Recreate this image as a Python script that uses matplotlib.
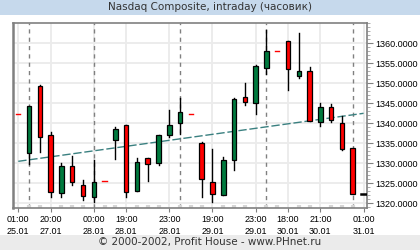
import numpy as np
import matplotlib.pyplot as plt
from matplotlib.patches import Rectangle
from matplotlib.ticker import MultipleLocator, FixedLocator

# hourly candles, index = slot on the x axis (None = empty slot with a marker)
opens = [None, 1332.5, 1349.25, 1337.0, 1322.5, 1329.25, 1324.5, 1321.5,
         None, 1335.75, 1339.5, 1323.0, 1331.25, 1330.0, 1337.0, 1340.0,
         None, 1335.0, 1325.25, 1322.0, 1330.75, 1346.5, 1345.0, 1353.75,
         None, 1360.5, 1351.75, 1353.0, 1340.25, 1344.0, 1340.0, 1333.75, None]
closes = [None, 1344.25, 1336.5, 1322.75, 1329.25, 1325.25, 1321.75, 1325.25,
          None, 1338.5, 1322.75, 1330.3, 1329.75, 1337.0, 1339.5, 1342.75,
          None, 1326.0, 1322.25, 1330.75, 1346.0, 1345.25, 1354.25, 1358.0,
          None, 1353.5, 1353.0, 1340.5, 1344.0, 1340.75, 1333.5, 1322.25, None]
highs = [None, 1344.25, 1349.6, 1337.75, 1330.0, 1331.75, 1325.75, 1330.8,
         None, 1339.0, 1339.5, 1331.25, 1331.25, 1337.0, 1343.25, 1346.4,
         None, 1335.3, 1333.5, 1331.5, 1346.25, 1350.0, 1354.5, 1363.25,
         None, 1360.5, 1362.6, 1354.0, 1345.0, 1344.75, 1341.75, 1333.75, None]
lows = [None, 1329.8, 1332.75, 1321.7, 1321.7, 1324.6, 1320.8, 1320.4,
        None, 1331.1, 1321.7, 1323.0, 1325.6, 1329.7, 1336.6, 1337.4,
        None, 1321.7, 1320.4, 1322.0, 1328.4, 1344.5, 1342.4, 1352.4,
        None, 1348.4, 1351.25, 1340.5, 1339.25, 1340.25, 1333.25, 1322.25, None]

# single price marks in the empty slots
mark_idx = [0, 8, 16, 24]
mark_val = [1342.25, 1325.6, 1342.25, 1358.0]
last_idx = 32
last_val = 1322.3

# trend line endpoints
trend_x = [0, 32]
trend_y = [1330.5, 1342.5]

tick_idx = [0, 3, 7, 10, 14, 18, 22, 25, 28, 32]
tick_labels = ["01:00\n25.01", "20:00\n27.01", "00:00\n28.01", "19:00\n28.01",
               "23:00\n28.01", "19:00\n29.01", "23:00\n29.01", "18:00\n30.01",
               "21:00\n30.01", "01:00\n31.01"]
day_idx = [1, 7, 15, 23, 31]

green = "#007a3e"
red = "#ff0000"
W, H = 420, 250

fig = plt.figure(figsize=(4.2, 2.5), dpi=100)
fig.patch.set_facecolor("white")

# title and footer bars
fig.add_artist(Rectangle((0, 1 - 15 / H), 1, 15 / H, transform=fig.transFigure,
                         facecolor="#c6d9ec", edgecolor="none", zorder=0))
fig.add_artist(Rectangle((0, 0), 1, 15.5 / H, transform=fig.transFigure,
                         facecolor="#ebebeb", edgecolor="none", zorder=0))
fig.text(0.5, 1 - 7.5 / H, "Nasdaq Composite, intraday (часовик)", ha="center",
         va="center", fontsize=7.5, color="#333333", family="DejaVu Sans")
fig.text(0.5, 7.5 / H, "© 2000-2002, Profit House - www.PHnet.ru", ha="center",
         va="center", fontsize=7.5, color="#333333", family="DejaVu Sans")

ax = fig.add_axes([13 / W, 1 - 208 / H, (367 - 13) / W, (208 - 23) / H])
ax.set_xlim(-0.49, 32.32)
ax.set_ylim(1318.83, 1365.08)

# grid
for v in range(1320, 1365, 5):
    ax.axhline(v, color="#ebebeb", lw=1.3, zorder=0)
for i in tick_idx:
    ax.axvline(i, color="#ebebeb", lw=1.3, zorder=0)
for i in day_idx:
    ax.axvline(i, color="#808080", lw=1, ls=(0, (3, 3)), zorder=1)

# trend line
ax.plot(trend_x, trend_y, color="#3a8080", lw=1, ls=(0, (6, 2)), zorder=2)

bw = 0.42
for i in range(len(opens)):
    o, c, h, l = opens[i], closes[i], highs[i], lows[i]
    if o is None:
        continue
    ax.plot([i, i], [l, h], color="black", lw=1, zorder=3)
    col = green if c >= o else red
    ax.add_patch(Rectangle((i - bw / 2, min(o, c)), bw, abs(c - o),
                           facecolor=col, edgecolor="black", lw=0.9, zorder=4))

for i, v in zip(mark_idx, mark_val):
    ax.plot([i - 0.2, i + 0.2], [v, v], color=red, lw=1, zorder=4)
ax.plot([last_idx - 0.25, last_idx + 0.25], [last_val, last_val],
        color="black", lw=1.8, zorder=4)

# spines
for s in ax.spines.values():
    s.set_color("#808080")
    s.set_linewidth(1.2)
ax.spines["left"].set_linewidth(1.8)

# axes ticks
ax.yaxis.tick_right()
ax.yaxis.set_major_locator(MultipleLocator(5))
ax.yaxis.set_minor_locator(MultipleLocator(1))
ax.set_yticks(np.arange(1320, 1365, 5))
ax.set_yticklabels([f"{v:.4f}" for v in np.arange(1320, 1365, 5)])
ax.tick_params(axis="y", which="major", direction="out", length=4, width=0.8,
               color="#808080", pad=2, labelsize=6.5, labelcolor="black")
ax.tick_params(axis="y", which="minor", direction="out", length=2, width=0.6,
               color="#a0a0a0")
ax.set_xticks(tick_idx)
ax.set_xticklabels(tick_labels, linespacing=1.45)
ax.xaxis.set_minor_locator(FixedLocator(range(33)))
ax.tick_params(axis="x", which="major", direction="out", length=3, width=0.8,
               color="#808080", pad=2, labelsize=6.5, labelcolor="black")
ax.tick_params(axis="x", which="minor", direction="in", length=2, width=3,
               color="#d6d6d6")
for lab in ax.get_xticklabels() + ax.get_yticklabels():
    lab.set_family("Liberation Sans")

fig.savefig("out.png", dpi=100)
